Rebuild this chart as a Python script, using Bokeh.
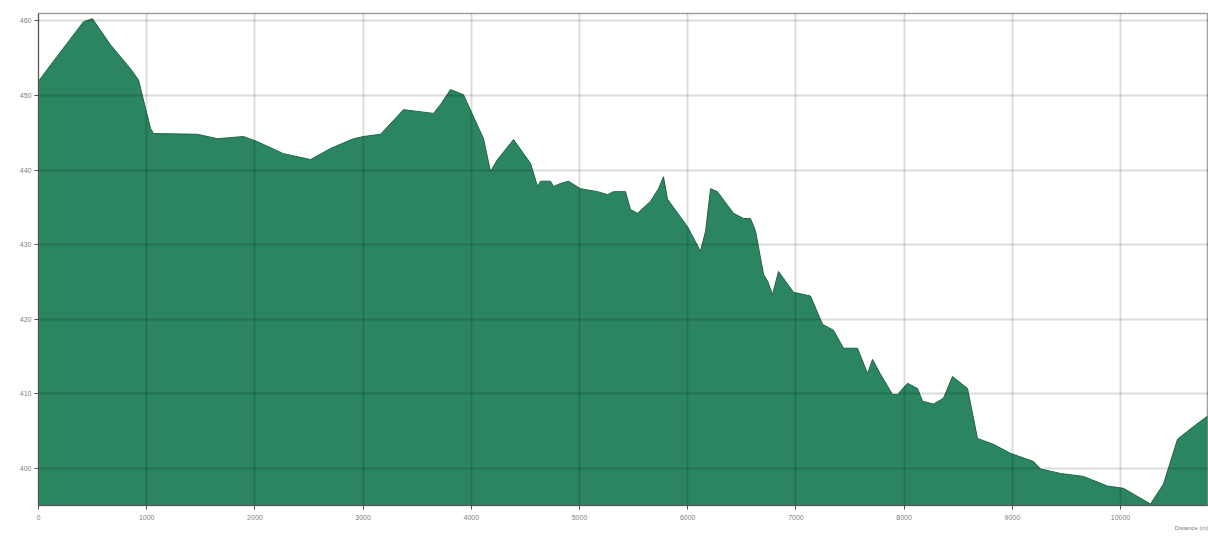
from bokeh.plotting import figure
from bokeh.embed import file_html
from bokeh.resources import INLINE
from bokeh.models import Range1d, FixedTicker, Title

# Elevation profile (distance in m, elevation in m)
dist = [0, 65, 416, 499, 665, 850, 924, 1035, 1063, 1469, 1654, 1895, 2024, 2264,
        2514, 2699, 2911, 3004, 3161, 3373, 3651, 3715, 3808, 3928, 4113, 4177,
        4242, 4390, 4547, 4612, 4640, 4732, 4760, 4824, 4898, 5009, 5166, 5259,
        5314, 5425, 5471, 5536, 5656, 5730, 5776, 5813, 5998, 6118, 6165, 6211,
        6275, 6423, 6516, 6580, 6627, 6701, 6738, 6784, 6839, 6978, 7135, 7246,
        7348, 7440, 7569, 7662, 7708, 7782, 7893, 7939, 8031, 8124, 8170, 8272,
        8364, 8447, 8586, 8678, 8826, 8983, 9196, 9261, 9445, 9658, 9880, 10028,
        10277, 10397, 10527, 10675, 10804]
elev = [451.9, 453.2, 459.9, 460.3, 456.8, 453.6, 452.1, 445.6, 444.9, 444.8,
        444.2, 444.5, 443.8, 442.2, 441.4, 442.9, 444.2, 444.5, 444.8, 448.1,
        447.6, 448.8, 450.8, 450.1, 444.2, 439.8, 441.4, 444.1, 440.9, 437.8,
        438.5, 438.5, 437.8, 438.2, 438.5, 437.5, 437.1, 436.7, 437.1, 437.1,
        434.7, 434.2, 435.8, 437.5, 439.1, 436.1, 432.4, 429.1, 431.8, 437.5,
        437.1, 434.2, 433.5, 433.5, 431.8, 426.0, 425.1, 423.3, 426.4, 423.6,
        423.1, 419.3, 418.5, 416.1, 416.1, 412.7, 414.6, 412.6, 409.9, 409.9,
        411.4, 410.7, 409.0, 408.6, 409.4, 412.3, 410.7, 404.0, 403.2, 402.0,
        400.9, 399.9, 399.3, 398.9, 397.6, 397.3, 395.2, 397.9, 403.9, 405.6,
        407.0]

x_ticks = [0, 1000, 2000, 3000, 4000, 5000, 6000, 7000, 8000, 9000, 10000]
y_ticks = [400, 410, 420, 430, 440, 450, 460]
x_label = "Distance (m)"

y_min, y_max = 395, 461
x_min, x_max = 0, 10813

p = figure(width=1208, height=539, output_backend="svg", toolbar_location=None,
           x_range=Range1d(x_min, x_max), y_range=Range1d(y_min, y_max),
           min_border_left=38, min_border_right=0, min_border_top=13,
           min_border_bottom=34)
p.background_fill_color = "white"
p.border_fill_color = "white"
p.outline_line_color = "#a0a0a0"
p.outline_line_width = 1.5

p.varea(x=dist, y1=y_min, y2=elev, fill_color="#2a8560", fill_alpha=1.0)
p.line(x=dist, y=elev, line_color="#2d5e48", line_width=1.0)

for ax, ticks in ((p.xaxis[0], x_ticks), (p.yaxis[0], y_ticks)):
    ax.ticker = FixedTicker(ticks=ticks)
    ax.minor_tick_line_color = None
    ax.major_tick_in = 0
    ax.major_tick_out = 4
    ax.major_tick_line_color = "#555555"
    ax.axis_line_color = "#555555"
    ax.major_label_text_font = "Liberation Sans"
    ax.major_label_text_font_size = "7px"
    ax.major_label_text_color = "#808080"
p.xaxis.major_label_standoff = 5
p.yaxis.major_label_standoff = 3

for g in (p.xgrid[0], p.ygrid[0]):
    g.grid_line_color = "black"
    g.grid_line_alpha = 0.14
    g.grid_line_width = 1.8
    g.level = "overlay"

p.add_layout(Title(text=x_label, align="right", text_font="Liberation Sans",
                   text_font_size="6px", text_color="#808080",
                   text_font_style="normal", standoff=0), "below")

open("out.html", "w").write(file_html(p, INLINE))
